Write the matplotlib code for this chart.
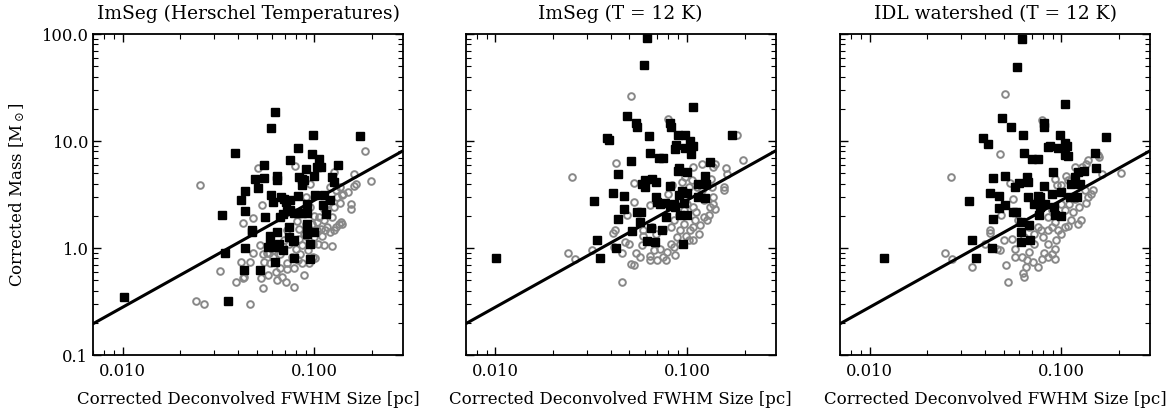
import numpy as np
import matplotlib
matplotlib.use("Agg")
import matplotlib.pyplot as plt
from matplotlib.ticker import FormatStrFormatter, LogLocator, NullFormatter

plt.rcParams['font.family'] = 'DejaVu Serif'
plt.rcParams['mathtext.fontset'] = 'dejavuserif'

titles = ["ImSeg (Herschel Temperatures)", "ImSeg (T = 12 K)", "IDL watershed (T = 12 K)"]

# panel 1: black squares
p1_blk_x = [0.0101, 0.0354, 0.0329, 0.034, 0.0384, 0.0415, 0.0437, 0.0437, 0.047, 0.047,
            0.0437, 0.0428, 0.0518, 0.0488, 0.0543, 0.0543, 0.051, 0.0555, 0.0591, 0.0626,
            0.0638, 0.0638, 0.0591, 0.0605, 0.0585, 0.0585, 0.057, 0.0612, 0.0652, 0.0635,
            0.0626, 0.0686, 0.067, 0.069, 0.0707, 0.0686, 0.0718, 0.075, 0.078, 0.066,
            0.075, 0.0818, 0.074, 0.074, 0.077, 0.078, 0.0818, 0.0832, 0.086, 0.0857,
            0.088, 0.0908, 0.0915, 0.0915, 0.0915, 0.0915, 0.0915, 0.086, 0.082, 0.0953,
            0.0973, 0.0985, 0.1, 0.1005, 0.1, 0.1033, 0.1057, 0.108, 0.112, 0.111,
            0.121, 0.115, 0.123, 0.126, 0.1324, 0.172, 0.095, 0.078, 0.075]
p1_blk_y = [0.35, 0.32, 2.05, 0.90, 7.8, 2.83, 3.41, 2.2, 1.48, 1.40,
            1.0, 0.62, 0.63, 4.4, 4.5, 5.97, 3.61, 1.95, 13.3, 18.8,
            4.74, 4.29, 3.13, 2.67, 1.31, 1.10, 1.02, 1.02, 1.1, 1.41,
            0.74, 0.95, 3.0, 2.89, 2.67, 2.09, 2.22, 2.25, 2.13, 1.95,
            6.7, 8.67, 1.57, 1.28, 1.16, 0.81, 3.08, 4.6, 4.4, 3.85,
            4.35, 5.5, 2.6, 2.13, 1.69, 1.48, 1.34, 2.13, 2.13, 0.795,
            7.6, 11.3, 4.67, 3.1, 1.41, 5.7, 6.84, 5.7, 3.1, 2.5,
            2.79, 2.09, 4.6, 4.14, 5.93, 11.1, 1.1, 1.2, 2.79]

# panel 1: grey circles
p1_gry_x = [0.0254, 0.0241, 0.0264, 0.0323, 0.0391, 0.0424, 0.0424, 0.0428, 0.0413, 0.046,
            0.0464, 0.0478, 0.048, 0.0506, 0.052, 0.053, 0.0528, 0.0537, 0.0565, 0.0548,
            0.057, 0.054, 0.059, 0.061, 0.0632, 0.064, 0.066, 0.068, 0.071, 0.0718,
            0.072, 0.0782, 0.0782, 0.0795, 0.082, 0.0845, 0.088, 0.0908, 0.0908, 0.0953,
            0.097, 0.098, 0.101, 0.103, 0.106, 0.112, 0.114, 0.117, 0.117, 0.119,
            0.1236, 0.124, 0.126, 0.126, 0.129, 0.131, 0.134, 0.136, 0.14, 0.136,
            0.141, 0.138, 0.149, 0.155, 0.156, 0.16, 0.16, 0.165, 0.183, 0.197,
            0.074, 0.08, 0.083, 0.086, 0.09, 0.093, 0.1, 0.105, 0.11, 0.112,
            0.103, 0.108, 0.1, 0.095, 0.088, 0.083, 0.081, 0.072, 0.069, 0.066,
            0.061, 0.058, 0.076, 0.086, 0.094, 0.098, 0.12, 0.126, 0.13, 0.117,
            0.112, 0.14, 0.12]
p1_gry_y = [3.85, 0.32, 0.30, 0.61, 0.48, 0.52, 1.71, 0.54, 0.745, 0.745,
            0.30, 1.92, 0.90, 5.6, 1.06, 2.52, 0.52, 0.426, 0.90, 0.745,
            0.556, 0.88, 0.72, 0.82, 0.60, 0.506, 0.655, 0.54, 0.478, 0.636,
            0.72, 0.43, 0.655, 5.8, 0.77, 0.885, 0.556, 3.0, 1.69, 3.94,
            1.69, 1.1, 0.80, 1.46, 1.95, 1.81, 1.46, 1.57, 2.25, 2.79,
            1.04, 1.95, 2.42, 5.17, 3.46, 3.0, 1.69, 2.65, 1.69, 3.7,
            3.2, 1.75, 3.33, 2.6, 2.33, 4.95, 3.8, 3.95, 8.0, 4.2,
            1.1, 0.98, 1.22, 1.06, 1.31, 0.95, 1.27, 1.1, 1.31, 1.06,
            1.75, 1.52, 2.0, 2.4, 1.36, 1.52, 1.8, 1.46, 1.18, 0.88,
            0.95, 0.9, 0.82, 0.72, 0.72, 0.82, 1.41, 1.46, 1.57, 2.6,
            2.33, 3.1, 3.7]

# panel 2: black squares
p2_blk_x = [0.0101, 0.0327, 0.0339, 0.035, 0.0383, 0.039, 0.0413, 0.0427, 0.0436, 0.0437,
            0.047, 0.047, 0.0488, 0.051, 0.0518, 0.054, 0.0545, 0.055, 0.0577, 0.057,
            0.0585, 0.06, 0.06, 0.0593, 0.062, 0.062, 0.0636, 0.064, 0.065, 0.068,
            0.066, 0.069, 0.069, 0.07, 0.071, 0.075, 0.074, 0.077, 0.078, 0.081,
            0.081, 0.082, 0.085, 0.087, 0.088, 0.09, 0.09, 0.091, 0.091, 0.092,
            0.094, 0.095, 0.096, 0.097, 0.098, 0.1, 0.1, 0.1, 0.103, 0.105,
            0.107, 0.108, 0.114, 0.114, 0.124, 0.126, 0.124, 0.132, 0.171, 0.087,
            0.081, 0.072]
p2_blk_y = [0.81, 2.75, 1.2, 0.81, 10.7, 10.3, 3.27, 1.0, 1.87, 4.88,
            3.04, 2.33, 17.3, 6.5, 1.43, 14.7, 13.5, 2.15, 2.17, 1.75,
            3.94, 4.36, 3.76, 51.0, 92.0, 1.16, 11.2, 7.7, 1.55, 1.15,
            4.45, 4.13, 3.0, 2.7, 7.0, 7.0, 1.48, 2.65, 1.95, 3.77,
            14.7, 13.5, 2.6, 8.4, 9.2, 11.5, 5.25, 5.6, 3.1, 2.05,
            3.4, 1.08, 2.63, 8.6, 11.5, 5.1, 3.3, 2.02, 10.0, 7.5,
            8.9, 20.8, 3.94, 3.0, 2.96, 3.94, 4.7, 6.4, 11.3, 2.4,
            2.5, 2.6]

# panel 2: grey circles
p2_gry_x = [0.0252, 0.0239, 0.026, 0.032, 0.041, 0.042, 0.0425, 0.046, 0.051, 0.053,
            0.053, 0.0484, 0.046, 0.0415, 0.0475, 0.051, 0.053, 0.0565, 0.054, 0.058,
            0.059, 0.064, 0.064, 0.067, 0.07, 0.072, 0.075, 0.078, 0.079, 0.082,
            0.085, 0.087, 0.089, 0.092, 0.096, 0.099, 0.102, 0.104, 0.108, 0.11,
            0.111, 0.117, 0.122, 0.127, 0.13, 0.132, 0.137, 0.14, 0.136, 0.135,
            0.133, 0.137, 0.14, 0.12, 0.108, 0.155, 0.155, 0.16, 0.162, 0.196,
            0.182, 0.08, 0.08, 0.083, 0.094, 0.097, 0.102, 0.106, 0.113, 0.12,
            0.122, 0.108, 0.1, 0.096, 0.091, 0.085, 0.082, 0.075, 0.069, 0.066,
            0.064, 0.059, 0.05, 0.108, 0.115, 0.092]
p2_gry_y = [4.6, 0.9, 0.79, 0.95, 1.38, 1.46, 6.2, 0.48, 26.5, 4.1,
            2.7, 2.02, 0.9, 1.02, 1.14, 0.71, 0.7, 0.82, 0.9, 1.06,
            1.31, 0.77, 0.85, 0.95, 0.77, 0.98, 0.82, 0.78, 0.92, 1.1,
            1.02, 0.87, 1.27, 1.46, 1.69, 1.31, 1.2, 1.46, 1.57, 1.81,
            2.17, 1.63, 1.95, 1.81, 2.02, 2.42, 2.6, 2.33, 3.0, 3.7,
            4.45, 5.7, 6.1, 6.1, 5.7, 3.7, 3.46, 5.6, 4.95, 6.6,
            11.5, 16.1, 3.2, 3.85, 4.15, 4.6, 3.7, 4.3, 3.7, 3.46,
            2.8, 2.42, 2.6, 2.25, 2.02, 1.81, 1.57, 1.46, 1.36, 1.57,
            2.5, 1.46, 1.1, 1.2, 1.36, 1.1]

# panel 3: black squares
p3_blk_x = [0.0119, 0.0329, 0.034, 0.036, 0.0391, 0.0413, 0.0434, 0.044, 0.044, 0.0423,
            0.0473, 0.0475, 0.0489, 0.051, 0.051, 0.0548, 0.0556, 0.058, 0.057, 0.06,
            0.0585, 0.0625, 0.063, 0.064, 0.0618, 0.0618, 0.0618, 0.066, 0.067, 0.067,
            0.068, 0.0685, 0.0705, 0.075, 0.072, 0.075, 0.075, 0.076, 0.077, 0.081,
            0.081, 0.081, 0.087, 0.085, 0.089, 0.09, 0.092, 0.091, 0.096, 0.098,
            0.1, 0.1, 0.104, 0.107, 0.104, 0.108, 0.104, 0.112, 0.111, 0.118,
            0.122, 0.125, 0.12, 0.131, 0.15, 0.152, 0.17, 0.077, 0.082]
p3_blk_y = [0.81, 2.75, 1.2, 0.81, 10.6, 9.3, 1.0, 1.87, 4.5, 3.27,
            3.04, 2.36, 16.5, 4.7, 2.5, 13.5, 2.15, 2.17, 3.72, 4.05,
            49.0, 90.0, 11.3, 7.8, 1.75, 1.4, 1.13, 4.6, 4.13, 3.0,
            1.64, 1.18, 6.8, 6.8, 2.6, 2.7, 3.04, 2.02, 2.42, 13.5,
            14.7, 3.77, 9.0, 8.8, 3.22, 5.1, 2.02, 2.42, 8.6, 11.5,
            3.34, 2.0, 9.6, 8.9, 7.4, 7.2, 22.2, 3.94, 3.0, 4.6,
            5.1, 4.0, 3.0, 5.25, 7.8, 5.55, 11.0, 3.0, 2.6]

# panel 3: grey circles
p3_gry_x = [0.0264, 0.0247, 0.0268, 0.034, 0.0425, 0.0425, 0.0476, 0.0505, 0.0525, 0.0515,
            0.0486, 0.0536, 0.056, 0.059, 0.057, 0.057, 0.063, 0.064, 0.065, 0.066,
            0.068, 0.071, 0.075, 0.079, 0.081, 0.085, 0.089, 0.092, 0.092, 0.094,
            0.085, 0.08, 0.078, 0.075, 0.072, 0.068, 0.064, 0.055, 0.05, 0.046,
            0.04, 0.048, 0.085, 0.089, 0.092, 0.096, 0.1, 0.104, 0.108, 0.112,
            0.122, 0.126, 0.104, 0.11, 0.118, 0.108, 0.106, 0.1, 0.095, 0.092,
            0.079, 0.117, 0.128, 0.135, 0.138, 0.132, 0.138, 0.143, 0.135, 0.146,
            0.155, 0.157, 0.162, 0.205, 0.124, 0.115, 0.089, 0.085, 0.1, 0.072,
            0.062]
p3_gry_y = [4.6, 0.9, 0.79, 0.66, 1.46, 1.38, 7.5, 27.6, 0.48, 0.7,
            2.02, 4.05, 2.87, 1.84, 0.99, 0.82, 0.58, 0.535, 0.66, 0.77,
            0.92, 0.74, 0.66, 0.79, 0.9, 0.82, 0.88, 0.79, 0.99, 1.18,
            1.1, 1.27, 1.46, 1.57, 1.36, 1.57, 1.27, 1.22, 1.18, 0.99,
            1.1, 0.95, 1.46, 1.57, 1.75, 1.46, 1.36, 1.57, 1.6, 1.81,
            1.69, 1.84, 2.25, 2.6, 2.9, 4.3, 4.75, 3.85, 3.85, 4.45,
            15.8, 5.7, 5.7, 6.1, 6.6, 3.46, 3.0, 3.2, 2.65, 3.46,
            7.4, 7.1, 4.95, 5.05, 2.42, 2.17, 2.25, 1.95, 2.6, 1.1,
            0.82]

# fitted relation M = k * R
fit_k = 28.0
fit_r = [0.007, 0.3]

panels = [(p1_gry_x, p1_gry_y, p1_blk_x, p1_blk_y),
          (p2_gry_x, p2_gry_y, p2_blk_x, p2_blk_y),
          (p3_gry_x, p3_gry_y, p3_blk_x, p3_blk_y)]

fig = plt.figure(figsize=(11.7, 4.13), dpi=100)
lefts = [0.0795, 0.398, 0.718]
for i, (gx, gy, bx, by) in enumerate(panels):
    ax = fig.add_axes([lefts[i], 0.1404, 0.265, 0.777])
    ax.plot(gx, gy, 'o', ms=4.8, mfc='none', mec='#888888', mew=1.4, ls='none')
    ax.plot(bx, by, 's', ms=6.0, color='black', ls='none')
    ax.plot(fit_r, [fit_k * r for r in fit_r], color='black', lw=2.2)
    ax.set_xscale('log')
    ax.set_yscale('log')
    ax.set_xlim(0.007, 0.29)
    ax.set_ylim(0.1, 100)
    ax.set_xticks([0.01, 0.1])
    ax.xaxis.set_major_formatter(FormatStrFormatter('%.3f'))
    ax.set_yticks([0.1, 1, 10, 100])
    ax.yaxis.set_major_formatter(FormatStrFormatter('%.1f'))
    ax.xaxis.set_minor_locator(LogLocator(base=10, subs=np.arange(2, 10)))
    ax.yaxis.set_minor_locator(LogLocator(base=10, subs=np.arange(2, 10)))
    ax.xaxis.set_minor_formatter(NullFormatter())
    ax.yaxis.set_minor_formatter(NullFormatter())
    ax.tick_params(which='both', direction='in', top=True, right=True, labelsize=11.8)
    ax.tick_params(which='major', length=6, width=1.0)
    ax.tick_params(which='minor', length=3.5, width=0.8)
    ax.tick_params(axis='x', which='major', pad=6)
    for s in ax.spines.values():
        s.set_linewidth(1.3)
    ax.set_title(titles[i], fontsize=13.4, pad=11)
    ax.set_xlabel('Corrected Deconvolved FWHM Size [pc]', fontsize=12, labelpad=8)
    if i == 0:
        ax.set_ylabel(r'Corrected Mass [M$_\odot$]', fontsize=12, labelpad=10)
    else:
        ax.set_yticklabels([])

fig.savefig('out.png', dpi=100)
